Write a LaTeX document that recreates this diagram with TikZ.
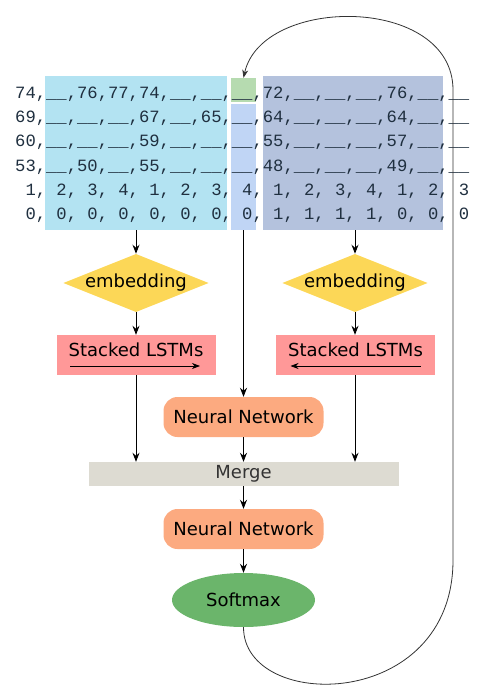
\documentclass[tikz,border=0pt]{standalone}
\usepackage{fontspec}
\setmainfont{DejaVu Sans}
\newfontfamily\gridfont{Liberation Mono}
\usetikzlibrary{arrows.meta,shapes.geometric}
\frenchspacing

\definecolor{leftblue}{HTML}{B3E3F2}
\definecolor{midblue}{HTML}{C0D5F5}
\definecolor{rightblue}{HTML}{B4C2DD}
\definecolor{nextgreen}{HTML}{B6DBB0}
\definecolor{embyellow}{HTML}{FCD757}
\definecolor{lstmred}{HTML}{FF9898}
\definecolor{nnorange}{HTML}{FCAA80}
\definecolor{mergegrey}{HTML}{DDDBD2}
\definecolor{softgreen}{HTML}{6BB56B}
\definecolor{gridtext}{HTML}{1F2F3F}

\tikzset{
  flow/.style={-{Stealth[length=9pt,width=7pt,inset=3pt]},line width=0.9pt},
  thinflow/.style={-{Stealth[length=8pt,width=6pt,inset=2.5pt]},line width=0.8pt},
  row/.style={anchor=base west,inner sep=0,text=gridtext,font=\gridfont\fontsize{17.2}{20}\selectfont},
  inbox/.style={inner sep=0,minimum width=#1},
  embed/.style={diamond,aspect=2.5,inner sep=0,fill=embyellow,font=\fontsize{18}{20}\selectfont},
  lstmbox/.style={fill=lstmred,minimum width=159pt,minimum height=40pt,inner sep=0},
  nnbox/.style={fill=nnorange,rounded corners=14pt,minimum width=160pt,minimum height=40pt,font=\fontsize{18}{20}\selectfont},
  label/.style={inner sep=0,font=\fontsize{18}{20}\selectfont}
}

\begin{document}
\begin{tikzpicture}[x=1pt,y=-1pt]
\useasboundingbox (0,0) rectangle (498,700);

% Input windows
\node[inbox=182pt,fill=leftblue,minimum height=154pt] (inL) at (136,153) {};
\node[inbox=25pt,fill=nextgreen,minimum height=24pt] (green) at (243.5,90) {};
\node[inbox=25pt,fill=midblue,minimum height=126pt] (mid) at (243.5,167) {};
\node[inbox=180pt,fill=rightblue,minimum height=154pt] (inR) at (353,153) {};

% Sequence rows
\node[row] (r1) at (15,98.5) {74,\_\_,76,77,74,\_\_,\_\_,\_\_,72,\_\_,\_\_,\_\_,76,\_\_,\_\_};
\node[row] (r2) at (15,122.7) {69,\_\_,\_\_,\_\_,67,\_\_,65,\_\_,64,\_\_,\_\_,\_\_,64,\_\_,\_\_};
\node[row] (r3) at (15,146.9) {60,\_\_,\_\_,\_\_,59,\_\_,\_\_,\_\_,55,\_\_,\_\_,\_\_,57,\_\_,\_\_};
\node[row] (r4) at (15,171.1) {53,\_\_,50,\_\_,55,\_\_,\_\_,\_\_,48,\_\_,\_\_,\_\_,49,\_\_,\_\_};
\node[row] (r5) at (15,195.3) {\ 1, 2, 3, 4, 1, 2, 3, 4, 1, 2, 3, 4, 1, 2, 3};
\node[row] (r6) at (15,219.5) {\ 0, 0, 0, 0, 0, 0, 0, 0, 1, 1, 1, 1, 0, 0, 0};

% Embeddings
\node[embed] (embL) at (136,283) {embedding};
\node[embed] (embR) at (355,283) {embedding};

% Stacked LSTMs
\node[lstmbox] (lstmL) at (136,355) {};
\node[label,yshift=5pt] (lstmLt) at (lstmL.center) {Stacked LSTMs};
\node[lstmbox] (lstmR) at (355.5,355) {};
\node[label,yshift=5pt] (lstmRt) at (lstmR.center) {Stacked LSTMs};
\draw[thinflow] ([xshift=-66pt,yshift=-11pt]lstmL.center) -- ([xshift=64pt,yshift=-11pt]lstmL.center);
\draw[thinflow] ([xshift=65pt,yshift=-11pt]lstmR.center) -- ([xshift=-65pt,yshift=-11pt]lstmR.center);

% Neural networks, merge and softmax
\node[nnbox] (nn1) at (243.5,417) {Neural Network};
\node[fill=mergegrey,minimum width=310pt,minimum height=24pt,inner sep=0,text=black!80,font=\fontsize{18}{20}\selectfont] (merge) at (243.5,474) {Merge};
\node[nnbox] (nn2) at (243.5,529) {Neural Network};
\node[ellipse,fill=softgreen,minimum width=143pt,minimum height=54pt,inner sep=0,font=\fontsize{18}{20}\selectfont] (soft) at (243.5,600) {Softmax};

% Arrows
\draw[flow] (inL.south) -- (embL.north);
\draw[flow] (embL.south) -- (lstmL.north);
\draw[flow] (embR |- inR.south) -- (embR.north);
\draw[flow] (embR.south) -- (embR |- lstmR.north);
\draw[flow] (mid.south) -- (nn1.north);
\draw[flow] (lstmL.south) -- (lstmL.south |- merge.north);
\draw[flow] (embR |- lstmR.south) -- (embR |- merge.north);
\draw[flow] (nn1.south) -- (merge.north);
\draw[flow] (merge.south) -- (nn2.north);
\draw[flow] (nn2.south) -- (soft.north);

% Feedback to next step
\draw[thinflow,black!80] (soft.south) .. controls (243.5,712) and (453,712) .. (453,560) -- (453,90) .. controls (453,-5) and (262,-5) .. (green.north);
\end{tikzpicture}
\end{document}
